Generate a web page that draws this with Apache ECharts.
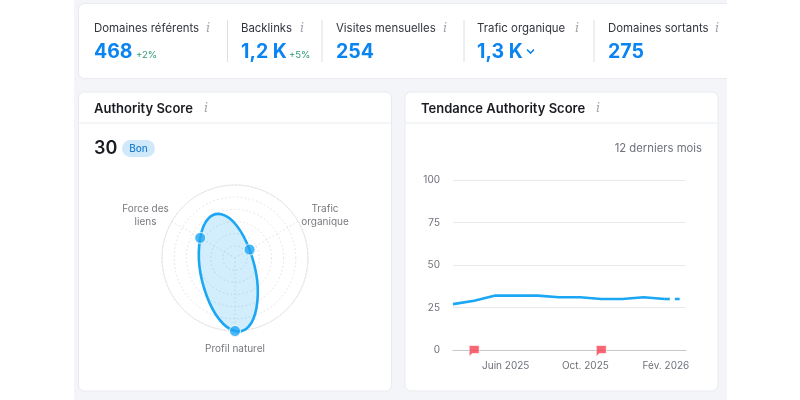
<!DOCTYPE html>
<html><head><meta charset="utf-8">
<style>html,body{margin:0;padding:0;background:#fff}#c{width:800px;height:400px}</style>
<script src="https://cdn.jsdelivr.net/npm/echarts@6/dist/echarts.min.js"></script>
</head><body><div id="c"></div>
<script>
const statLabels = ['Domaines référents','Backlinks','Visites mensuelles','Trafic organique','Domaines sortants'];
const statValues = ['468','1,2 K','254','1,3 K','275'];
const statDeltas = ['+2%','+5%','','',''];
const radarNames = ['Trafic\norganique','Force des\nliens','Profil naturel'];
const radarValues = [23,55,100];
const radarAngles = [0,120,240];
const months = [0,1,2,3,4,5,6,7,8,9,10];
const trendValues = [27,29,32,32,32,31,31,30,30,31,30];
const projX = [10,10.7];
const projValues = [30,30];
const flagMonths = [1,7];
const tickLabels = ['Juin 2025','Oct. 2025','Fév. 2026'];
const tickPositions = [2.49,6.25,10.05];
const scoreTitle = 'Authority Score', trendTitle = 'Tendance Authority Score';

const FF = 'Inter, "Noto Sans", sans-serif';
const txt = (text,x,y,font,fill,align) => ({type:'text',z:1,silent:true,style:{text,x,y,font:font+' '+FF,fill,align:align||'left',verticalAlign:'middle',lineHeight:13}});
const info = (x,y) => ({type:'text',z:1,silent:true,style:{text:'i',x,y,font:'italic 13px "DejaVu Serif", serif',fill:'#a4a6ae',align:'center',verticalAlign:'middle'}});
const card = (x,y,w,h,r) => ({type:'rect',z:-5,silent:true,shape:{x,y,width:w,height:h,r},style:{fill:'#fff',stroke:'#e9ebf0',lineWidth:1}});
const statX = [94,241,336,477,608], infoX = [208,302,445,577,717], divX = [227.5,322,464,594], deltaX = [136,289];

const g = [
 {type:'rect',z:-10,silent:true,shape:{x:74,y:0,width:653,height:400},style:{fill:'#f4f5f9'}},
 card(78.5,3.5,660,75,[6,0,0,6]), card(78.5,92,313,299,6), card(405,92,313,299,6),
 {type:'rect',z:-4,silent:true,shape:{x:727,y:0,width:73,height:400},style:{fill:'#fff'}},
 {type:'line',z:-4,silent:true,shape:{x1:79,y1:123,x2:391,y2:123},style:{stroke:'#e9ebf0',lineWidth:1}},
 {type:'line',z:-4,silent:true,shape:{x1:405.5,y1:123,x2:717.5,y2:123},style:{stroke:'#e9ebf0',lineWidth:1}},
];
statLabels.forEach((s,i)=>{
  g.push(txt(s,statX[i],29,'400 11.4px','#33353d'), info(infoX[i],29));
  g.push(txt(statValues[i],statX[i],52,'700 19.5px','#0a84f0'));
  if(statDeltas[i]) g.push(txt(statDeltas[i],deltaX[i],55,'400 9.5px','#2f9a78'));
});
divX.forEach(x=>g.push({type:'line',z:0,silent:true,shape:{x1:x,y1:20,x2:x,y2:62},style:{stroke:'#dcdee3',lineWidth:1}}));
g.push({type:'polyline',z:1,silent:true,shape:{points:[[527,49.5],[530.5,53],[534,49.5]]},style:{stroke:'#0a84f0',lineWidth:1.6,fill:'none'}});
g.push(txt(scoreTitle,94,109,'600 13px','#1b1c22'), info(206,109));
g.push(txt(trendTitle,421,109,'600 13px','#1b1c22'), info(598,109));
g.push(txt('30',94,149,'600 18px','#1b1c22'));
g.push({type:'rect',z:0,silent:true,shape:{x:122,y:140,width:33,height:17,r:8.5},style:{fill:'#cfe9fb'}});
g.push(txt('Bon',138.5,148.5,'500 10px','#1f80cf','center'));
g.push(txt('12 derniers mois',702,148.5,'400 11.3px','#6f717b','right'));
g.push(txt(radarNames[0],325,215.5,'400 10px','#77797f','center'));
g.push(txt(radarNames[1],145.5,215.5,'400 10px','#77797f','center'));
g.push(txt(radarNames[2],235,348.5,'400 10px','#77797f','center'));

const axisGrey='#6f717b';
const chart = echarts.init(document.getElementById('c'),null,{renderer:'canvas'});
chart.setOption({
  animation:false,
  backgroundColor:'#fff',
  textStyle:{fontFamily:FF},
  graphic:{elements:g},
  polar:{center:[235,258],radius:73},
  angleAxis:{type:'value',min:0,max:360,interval:120,startAngle:30,clockwise:false,
    axisLine:{show:true,lineStyle:{color:'#e6e7ea',width:1}},axisTick:{show:false},axisLabel:{show:false},
    splitLine:{show:true,lineStyle:{color:'#dfe0e4',type:[1.5,2.5],width:1}}},
  radiusAxis:{type:'value',min:0,max:100,interval:100/6,
    axisLine:{show:false},axisTick:{show:false},axisLabel:{show:false},
    splitLine:{show:true,lineStyle:{color:'#dfe0e4',type:[1.5,2.5],width:1}}},
  grid:{left:453,right:114,top:180,bottom:50},
  xAxis:{type:'value',min:0,max:11,
    axisLine:{show:true,onZero:false,lineStyle:{color:'#c5c7cd'}},axisTick:{show:false},splitLine:{show:false},
    axisLabel:{customValues:tickPositions,margin:11,color:axisGrey,fontSize:10,fontFamily:FF,
      formatter:v=>tickLabels[tickPositions.indexOf(v)]||''}},
  yAxis:{type:'value',min:0,max:100,interval:25,
    axisLine:{show:false},axisTick:{show:false},
    splitLine:{lineStyle:{color:'#e9eaed'}},
    axisLabel:{margin:13,color:axisGrey,fontSize:10,fontFamily:FF,padding:[2,0,0,0]}},
  series:[
    {type:'custom',coordinateSystem:'polar',z:3,silent:true,
      data:radarValues.map((v,i)=>[v,radarAngles[i]]),
      renderItem(params,api){
        if(params.dataIndex!==0) return null;
        const p=radarValues.map((v,i)=>api.coord([v,radarAngles[i]]));
        const k=0.45,n=p.length;let d=`M${p[0][0]} ${p[0][1]}`;
        for(let i=0;i<n;i++){
          const a=p[(i+n-1)%n],b=p[i],c=p[(i+1)%n],e=p[(i+2)%n];
          d+=`C${b[0]+k*(c[0]-a[0])} ${b[1]+k*(c[1]-a[1])} ${c[0]-k*(e[0]-b[0])} ${c[1]-k*(e[1]-b[1])} ${c[0]} ${c[1]}`;
        }
        return {type:'path',shape:{pathData:d+'Z'},style:{fill:'rgba(32,168,245,0.2)',stroke:'#1ba7f4',lineWidth:2.6}};
      }},
    {type:'scatter',coordinateSystem:'polar',z:4,silent:true,symbolSize:11,
      data:radarValues.map((v,i)=>[v,radarAngles[i]]),
      itemStyle:{color:'#1fa5f2',borderColor:'#fff',borderWidth:1}},
    {type:'line',xAxisIndex:0,yAxisIndex:0,z:3,silent:true,showSymbol:false,
      data:months.map((m,i)=>[m,trendValues[i]]),lineStyle:{color:'#1ba7f4',width:2.6}},
    {type:'line',z:3,silent:true,showSymbol:false,
      data:projX.map((m,i)=>[m,projValues[i]]),lineStyle:{color:'#1ba7f4',width:2.6,type:[5,5]}},
    {type:'scatter',z:4,silent:true,symbol:'path://M0 0H10V8H3L0 11Z',symbolSize:[10,11],symbolOffset:[0,1],
      data:flagMonths.map(m=>[m,0]),itemStyle:{color:'#f63f50',borderColor:'#fff',borderWidth:0.8}}
  ]
});
</script></body></html>
